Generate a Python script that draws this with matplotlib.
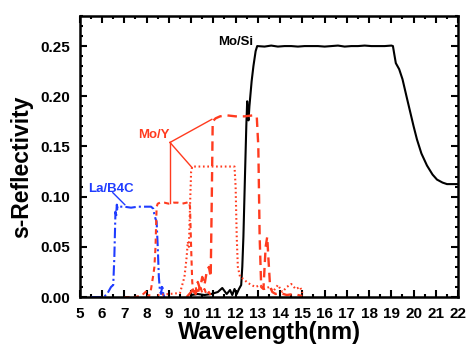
import matplotlib
matplotlib.use("Agg")
import matplotlib.pyplot as plt
from matplotlib.ticker import MultipleLocator, FormatStrFormatter

plt.rcParams['font.family'] = ['Liberation Sans', 'DejaVu Sans']
plt.rcParams['font.weight'] = 'bold'

# Mo/Si (black solid)
mosi_wl = [10.0, 10.3, 10.6, 10.9, 11.2, 11.4, 11.5, 11.6, 11.75, 11.85, 11.95, 12.05, 12.15,
           12.25, 12.3, 12.35, 12.42, 12.48, 12.52, 12.55, 12.58, 12.62, 12.66, 12.72, 12.8,
           12.9, 12.97, 13.3, 13.6, 13.9, 14.2, 14.5, 14.8, 15.1, 15.4, 15.7, 16.0, 16.3, 16.6,
           16.9, 17.2, 17.5, 17.8, 18.1, 18.4, 18.7, 19.0, 19.07, 19.13, 19.2, 19.35, 19.5,
           19.7, 19.85, 20.0, 20.15, 20.35, 20.6, 20.85, 21.05, 21.3, 21.5, 22.0]
mosi_r = [0.002, 0.003, 0.002, 0.003, 0.005, 0.009, 0.006, 0.003, 0.007, 0.002, 0.008, 0.003,
          0.008, 0.012, 0.03, 0.06, 0.12, 0.17, 0.195, 0.18, 0.176, 0.19, 0.2, 0.215, 0.23,
          0.245, 0.25, 0.2495, 0.2505, 0.2495, 0.25, 0.25, 0.2495, 0.25, 0.25, 0.25, 0.2495,
          0.25, 0.2505, 0.2495, 0.25, 0.25, 0.2505, 0.25, 0.25, 0.25, 0.2505, 0.25, 0.242,
          0.233, 0.227, 0.217, 0.198, 0.184, 0.17, 0.157, 0.143, 0.131, 0.122, 0.117, 0.114,
          0.1125, 0.1125]

# La/B4C (blue dash-dot)
lab_wl = [5.5, 5.8, 6.0, 6.2, 6.3, 6.4, 6.5, 6.55, 6.6, 6.63, 6.66, 6.7, 6.8, 7.0, 7.3, 7.6,
          7.9, 8.2, 8.3, 8.35, 8.4, 8.45, 8.5, 8.55, 8.6, 8.65, 8.7, 8.75, 8.8]
lab_r = [0.0, 0.0, 0.0, 0.002, 0.006, 0.01, 0.012, 0.04, 0.085, 0.08, 0.092, 0.088, 0.09, 0.09,
         0.089, 0.09, 0.09, 0.09, 0.088, 0.082, 0.078, 0.075, 0.05, 0.02, 0.006, 0.003, 0.012,
         0.003, 0.0]

# Mo/Y period 1 (short dash)
moy1_wl = [7.0, 7.5, 7.8, 8.0, 8.1, 8.2, 8.3, 8.35, 8.4, 8.45, 8.5, 8.6, 8.8, 9.0, 9.2, 9.4,
           9.6, 9.8, 9.9, 9.95, 10.0, 10.05, 10.1, 10.2, 10.3, 10.4, 10.5, 10.6, 10.7, 10.8,
           10.9, 11.0]
moy1_r = [0.0, 0.0, 0.002, 0.006, 0.0, 0.008, 0.022, 0.03, 0.05, 0.09, 0.093, 0.094, 0.094,
          0.093, 0.094, 0.094, 0.093, 0.094, 0.095, 0.09, 0.05, 0.015, 0.005, 0.01, 0.003,
          0.012, 0.004, 0.008, 0.002, 0.005, 0.001, 0.0]

# Mo/Y period 2 (dotted)
moy2_wl = [8.5, 9.0, 9.5, 9.7, 9.8, 9.85, 9.9, 9.95, 10.0, 10.05, 10.3, 10.6, 11.0, 11.4, 11.8,
           11.95, 12.0, 12.05, 12.1, 12.2, 12.35, 12.5, 12.7, 12.9, 13.1, 13.3, 13.5, 13.7,
           13.9, 14.1, 14.3, 14.5, 14.7, 14.9, 15.0]
moy2_r = [0.002, 0.003, 0.004, 0.02, 0.04, 0.055, 0.05, 0.09, 0.125, 0.13, 0.13, 0.13, 0.13,
          0.13, 0.13, 0.13, 0.11, 0.06, 0.03, 0.02, 0.018, 0.015, 0.012, 0.01, 0.012, 0.008,
          0.01, 0.006, 0.012, 0.005, 0.01, 0.013, 0.008, 0.01, 0.004]

# Mo/Y period 3 (long dash)
moy3_wl = [9.8, 10.0, 10.1, 10.2, 10.3, 10.4, 10.5, 10.6, 10.7, 10.8, 10.88, 10.93, 10.97,
           11.1, 11.3, 11.6, 12.0, 12.4, 12.8, 12.95, 13.02, 13.08, 13.15, 13.25, 13.35, 13.42,
           13.47, 13.55, 13.65, 13.8, 14.0, 14.3, 14.6, 15.0]
moy3_r = [0.0, 0.005, 0.01, 0.003, 0.015, 0.008, 0.02, 0.012, 0.025, 0.03, 0.02, 0.1, 0.175,
          0.178, 0.18, 0.181, 0.18, 0.18, 0.181, 0.18, 0.15, 0.06, 0.01, 0.008, 0.05, 0.06,
          0.04, 0.01, 0.005, 0.003, 0.004, 0.002, 0.003, 0.001]

red = '#ff3b1f'
blue = '#1f3cff'

fig = plt.figure(figsize=(4.67, 3.47), dpi=100)
ax = fig.add_axes([0.171, 0.144, 0.81, 0.81])

ax.plot(mosi_wl, mosi_r, color='black', lw=1.5, solid_joinstyle='round')
ax.plot(lab_wl, lab_r, color=blue, lw=1.5, linestyle=(0, (5, 1.5, 1, 1.5)))
ax.plot(moy1_wl, moy1_r, color=red, lw=1.5, linestyle=(0, (2.5, 2)))
ax.plot(moy2_wl, moy2_r, color=red, lw=1.5, linestyle=(0, (0.8, 1.3)))
ax.plot(moy3_wl, moy3_r, color=red, lw=1.7, linestyle=(0, (4, 2.5)))

# annotations
ax.text(12.78, 0.254, 'Mo/Si', color='black', fontsize=9.5, fontweight='bold',
        ha='right', va='center')
ax.text(9.05, 0.161, 'Mo/Y', color=red, fontsize=9.5, fontweight='bold',
        ha='right', va='center')
ax.plot([9.05, 10.93], [0.154, 0.177], color=red, lw=1)
ax.plot([9.05, 10.04], [0.154, 0.129], color=red, lw=1)
ax.plot([9.05, 9.05], [0.154, 0.094], color=red, lw=1)
ax.text(5.35, 0.1076, 'La/B4C', color=blue, fontsize=9.5, fontweight='bold',
        ha='left', va='center')
ax.plot([6.48, 7.02], [0.104, 0.092], color=blue, lw=1)

ax.set_xlim(5, 22)
ax.set_ylim(0, 0.28)
ax.xaxis.set_major_locator(MultipleLocator(1))
ax.xaxis.set_minor_locator(MultipleLocator(0.5))
ax.yaxis.set_major_locator(MultipleLocator(0.05))
ax.yaxis.set_minor_locator(MultipleLocator(0.01))
ax.yaxis.set_major_formatter(FormatStrFormatter('%.2f'))
ax.tick_params(which='both', direction='in', top=True, right=True, width=1.5)
ax.tick_params(which='major', length=5, labelsize=11)
ax.tick_params(axis='x', which='major', pad=7)
ax.tick_params(axis='y', which='major', pad=7)
ax.tick_params(which='minor', length=2.5)
for lab in ax.get_xticklabels() + ax.get_yticklabels():
    lab.set_fontweight('bold')
for s in ax.spines.values():
    s.set_linewidth(1.8)

ax.set_xlabel('Wavelength(nm)', fontsize=17, fontweight='bold', labelpad=0.5)
ax.set_ylabel('s-Reflectivity', fontsize=16.5, fontweight='bold')
ax.yaxis.set_label_coords(-0.124, 0.463)

fig.savefig('out.png', dpi=100)
